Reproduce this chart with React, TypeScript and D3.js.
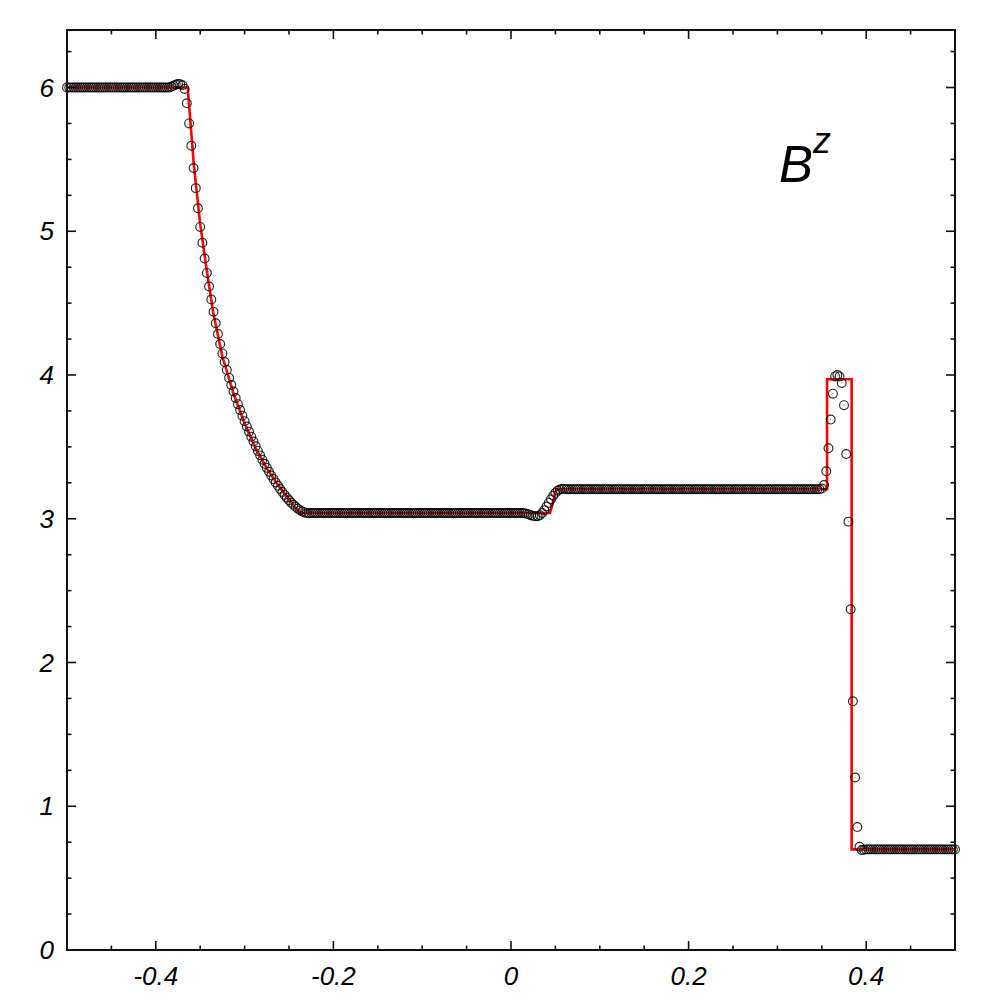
import React from "react";
import * as d3 from "d3";

// ---- data ----
// numerical solution: cell values on a uniform grid spanning [-0.5, 0.5]
const leftState = [
  6.0, 6.0, 6.0, 6.0, 6.0, 6.0, 6.0, 6.0, 6.0, 6.0,
  6.0, 6.0, 6.0, 6.0, 6.0, 6.0, 6.0, 6.0, 6.0, 6.0,
  6.0, 6.0, 6.0, 6.0, 6.0, 6.0, 6.0, 6.0, 6.0, 6.0,
  6.0, 6.0, 6.0, 6.0, 6.0, 6.0, 6.0, 6.0, 6.0, 6.0,
  6.0, 6.0, 6.0, 6.0, 6.0, 6.0, 6.0,
];
const rarefaction = [
  6.005, 6.012, 6.02, 6.025, 6.022, 6.015, 5.99, 5.89, 5.75, 5.595,
  5.44, 5.3, 5.16, 5.03, 4.92, 4.81, 4.71, 4.615, 4.525, 4.44,
  4.36, 4.285, 4.215, 4.15, 4.09, 4.035, 3.98, 3.93, 3.885, 3.84,
  3.797, 3.756, 3.717, 3.679, 3.642, 3.606, 3.571, 3.537, 3.504, 3.472,
  3.441, 3.411, 3.382, 3.354, 3.327, 3.301, 3.276, 3.252, 3.229, 3.207,
  3.186, 3.166, 3.147, 3.129, 3.112, 3.097, 3.083, 3.07, 3.059, 3.05,
  3.044, 3.04, 3.038,
];
const middleState = [
  3.04, 3.04, 3.04, 3.04, 3.04, 3.04, 3.04, 3.04, 3.04, 3.04,
  3.04, 3.04, 3.04, 3.04, 3.04, 3.04, 3.04, 3.04, 3.04, 3.04,
  3.04, 3.04, 3.04, 3.04, 3.04, 3.04, 3.04, 3.04, 3.04, 3.04,
  3.04, 3.04, 3.04, 3.04, 3.04, 3.04, 3.04, 3.04, 3.04, 3.04,
  3.04, 3.04, 3.04, 3.04, 3.04, 3.04, 3.04, 3.04, 3.04, 3.04,
  3.04, 3.04, 3.04, 3.04, 3.04, 3.04, 3.04, 3.04, 3.04, 3.04,
  3.04, 3.04, 3.04, 3.04, 3.04, 3.04, 3.04, 3.04, 3.04, 3.04,
  3.04, 3.04, 3.04, 3.04, 3.04, 3.04, 3.04, 3.04, 3.04, 3.04,
  3.04, 3.04, 3.04, 3.04, 3.04, 3.04, 3.04, 3.04, 3.04, 3.04,
  3.04, 3.04, 3.04, 3.04, 3.04,
];
const contact = [
  3.04, 3.038, 3.035, 3.03, 3.025, 3.02, 3.017, 3.018, 3.025, 3.04,
  3.06, 3.085, 3.11, 3.135, 3.16, 3.18, 3.195, 3.203, 3.207, 3.208,
];
const plateau = [
  3.205, 3.205, 3.205, 3.205, 3.205, 3.205, 3.205, 3.205, 3.205, 3.205,
  3.205, 3.205, 3.205, 3.205, 3.205, 3.205, 3.205, 3.205, 3.205, 3.205,
  3.205, 3.205, 3.205, 3.205, 3.205, 3.205, 3.205, 3.205, 3.205, 3.205,
  3.205, 3.205, 3.205, 3.205, 3.205, 3.205, 3.205, 3.205, 3.205, 3.205,
  3.205, 3.205, 3.205, 3.205, 3.205, 3.205, 3.205, 3.205, 3.205, 3.205,
  3.205, 3.205, 3.205, 3.205, 3.205, 3.205, 3.205, 3.205, 3.205, 3.205,
  3.205, 3.205, 3.205, 3.205, 3.205, 3.205, 3.205, 3.205, 3.205, 3.205,
  3.205, 3.205, 3.205, 3.205, 3.205, 3.205, 3.205, 3.205, 3.205, 3.205,
  3.205, 3.205, 3.205, 3.205, 3.205, 3.205, 3.205, 3.205, 3.205, 3.205,
  3.205, 3.205, 3.205, 3.205, 3.205, 3.205, 3.205, 3.205, 3.205, 3.205,
  3.205, 3.205, 3.205, 3.205, 3.205, 3.205, 3.205, 3.205, 3.205, 3.205,
  3.205, 3.205, 3.205, 3.205, 3.205,
];
const shellAndShock = [
  3.21, 3.235, 3.33, 3.49, 3.69, 3.87, 3.99, 4.0, 3.99, 3.945,
  3.79, 3.45, 2.98, 2.37, 1.73, 1.2, 0.855, 0.718, 0.695, 0.697,
];
const rightState = [
  0.7, 0.7, 0.7, 0.7, 0.7, 0.7, 0.7, 0.7, 0.7, 0.7,
  0.7, 0.7, 0.7, 0.7, 0.7, 0.7, 0.7, 0.7, 0.7, 0.7,
  0.7, 0.7, 0.7, 0.7, 0.7, 0.7, 0.7, 0.7, 0.7, 0.7,
  0.7, 0.7, 0.7, 0.7, 0.7, 0.7, 0.7, 0.7, 0.7, 0.7,
  0.7,
];

// exact solution (red line) vertices
const exactX = [
  -0.5, -0.3641, -0.357, -0.3502, -0.3427, -0.3352, -0.325, -0.3125, -0.3,
  -0.2875, -0.275, -0.2625, -0.25, -0.2425, -0.2375, 0.044, 0.051, 0.3559,
  0.3559, 0.3836, 0.3836, 0.5,
];
const exactY = [
  6.0, 6.0, 5.45, 5.06, 4.73, 4.43, 4.13, 3.87, 3.665, 3.49, 3.35, 3.235,
  3.135, 3.075, 3.04, 3.04, 3.205, 3.205, 3.97, 3.97, 0.7, 0.7,
];

const xMajorTicks = [-0.4, -0.2, 0, 0.2, 0.4];
const xTickLabels = ["-0.4", "-0.2", "0", "0.2", "0.4"];
const yMajorTicks = [0, 1, 2, 3, 4, 5, 6];
const yTickLabels = ["0", "1", "2", "3", "4", "5", "6"];

const numerical = [
  ...leftState,
  ...rarefaction,
  ...middleState,
  ...contact,
  ...plateau,
  ...shellAndShock,
  ...rightState,
];

export default function App() {
  const left = 67, right = 955, top = 30, bottom = 950;
  const x = d3.scaleLinear().domain([-0.5, 0.5]).range([left, right]);
  const y = d3.scaleLinear().domain([0, 6.4]).range([bottom, top]);
  const gridX = d3.scaleLinear().domain([0, numerical.length - 1]).range([-0.5, 0.5]);

  const line = d3
    .line<number>()
    .x((_, i) => x(exactX[i]))
    .y((d) => y(d));
  const redPath = line(exactY) || "";

  const xMinor = d3.range(-0.45, 0.5, 0.05).filter(
    (v) => !xMajorTicks.some((m) => Math.abs(m - v) < 1e-6)
  );
  const yMinor = d3.range(0.25, 6.4, 0.25).filter(
    (v) => Math.abs(v - Math.round(v)) > 1e-6
  );

  const font = "'Liberation Sans', Arial, sans-serif";
  const tickStroke = 1.6;

  return (
    <svg
      width={1000}
      height={1000}
      style={{ position: "absolute", left: 0, top: 0, background: "#fff" }}
    >
      <rect x={0} y={0} width={1000} height={1000} fill="#fff" />
      {/* exact solution */}
      <path d={redPath} fill="none" stroke="#ff0000" strokeWidth={2.6} strokeLinejoin="miter" />
      {/* numerical solution */}
      <g>
        {numerical.map((v, i) => (
          <g key={i}>
            <circle cx={x(gridX(i))} cy={y(v)} r={4.4} fill="none" stroke="#000" strokeOpacity={0.85} strokeWidth={1.15} />
            <circle cx={x(gridX(i))} cy={y(v)} r={0.6} fill="#777" />
          </g>
        ))}
      </g>
      {/* ticks */}
      <g stroke="#111" strokeWidth={tickStroke}>
        {xMajorTicks.map((t) => (
          <g key={"xm" + t}>
            <line x1={x(t)} x2={x(t)} y1={bottom} y2={bottom - 9} />
            <line x1={x(t)} x2={x(t)} y1={top} y2={top + 9} />
          </g>
        ))}
        {xMinor.map((t) => (
          <g key={"xn" + t}>
            <line x1={x(t)} x2={x(t)} y1={bottom} y2={bottom - 4.5} />
            <line x1={x(t)} x2={x(t)} y1={top} y2={top + 4.5} />
          </g>
        ))}
        {yMajorTicks.map((t) => (
          <g key={"ym" + t}>
            <line x1={left} x2={left + 9} y1={y(t)} y2={y(t)} />
            <line x1={right} x2={right - 9} y1={y(t)} y2={y(t)} />
          </g>
        ))}
        {yMinor.map((t) => (
          <g key={"yn" + t}>
            <line x1={left} x2={left + 4.5} y1={y(t)} y2={y(t)} />
            <line x1={right} x2={right - 4.5} y1={y(t)} y2={y(t)} />
          </g>
        ))}
      </g>
      {/* frame */}
      <rect x={left} y={top} width={right - left} height={bottom - top} fill="none" stroke="#111" strokeWidth={2} />
      {/* tick labels */}
      <g fontFamily={font} fontStyle="italic" fontSize={26} fill="#000">
        {xMajorTicks.map((t, i) => (
          <text key={"xl" + t} x={x(t)} y={985} textAnchor="middle">
            {xTickLabels[i]}
          </text>
        ))}
        {yMajorTicks.map((t, i) => (
          <text key={"yl" + t} x={54} y={y(t) + 9} textAnchor="end">
            {yTickLabels[i]}
          </text>
        ))}
      </g>
      {/* variable label */}
      <text x={779} y={182} fontFamily={font} fontStyle="italic" fontSize={51} fill="#000">
        B
        <tspan fontSize={36} dy={-29}>z</tspan>
      </text>
    </svg>
  );
}
